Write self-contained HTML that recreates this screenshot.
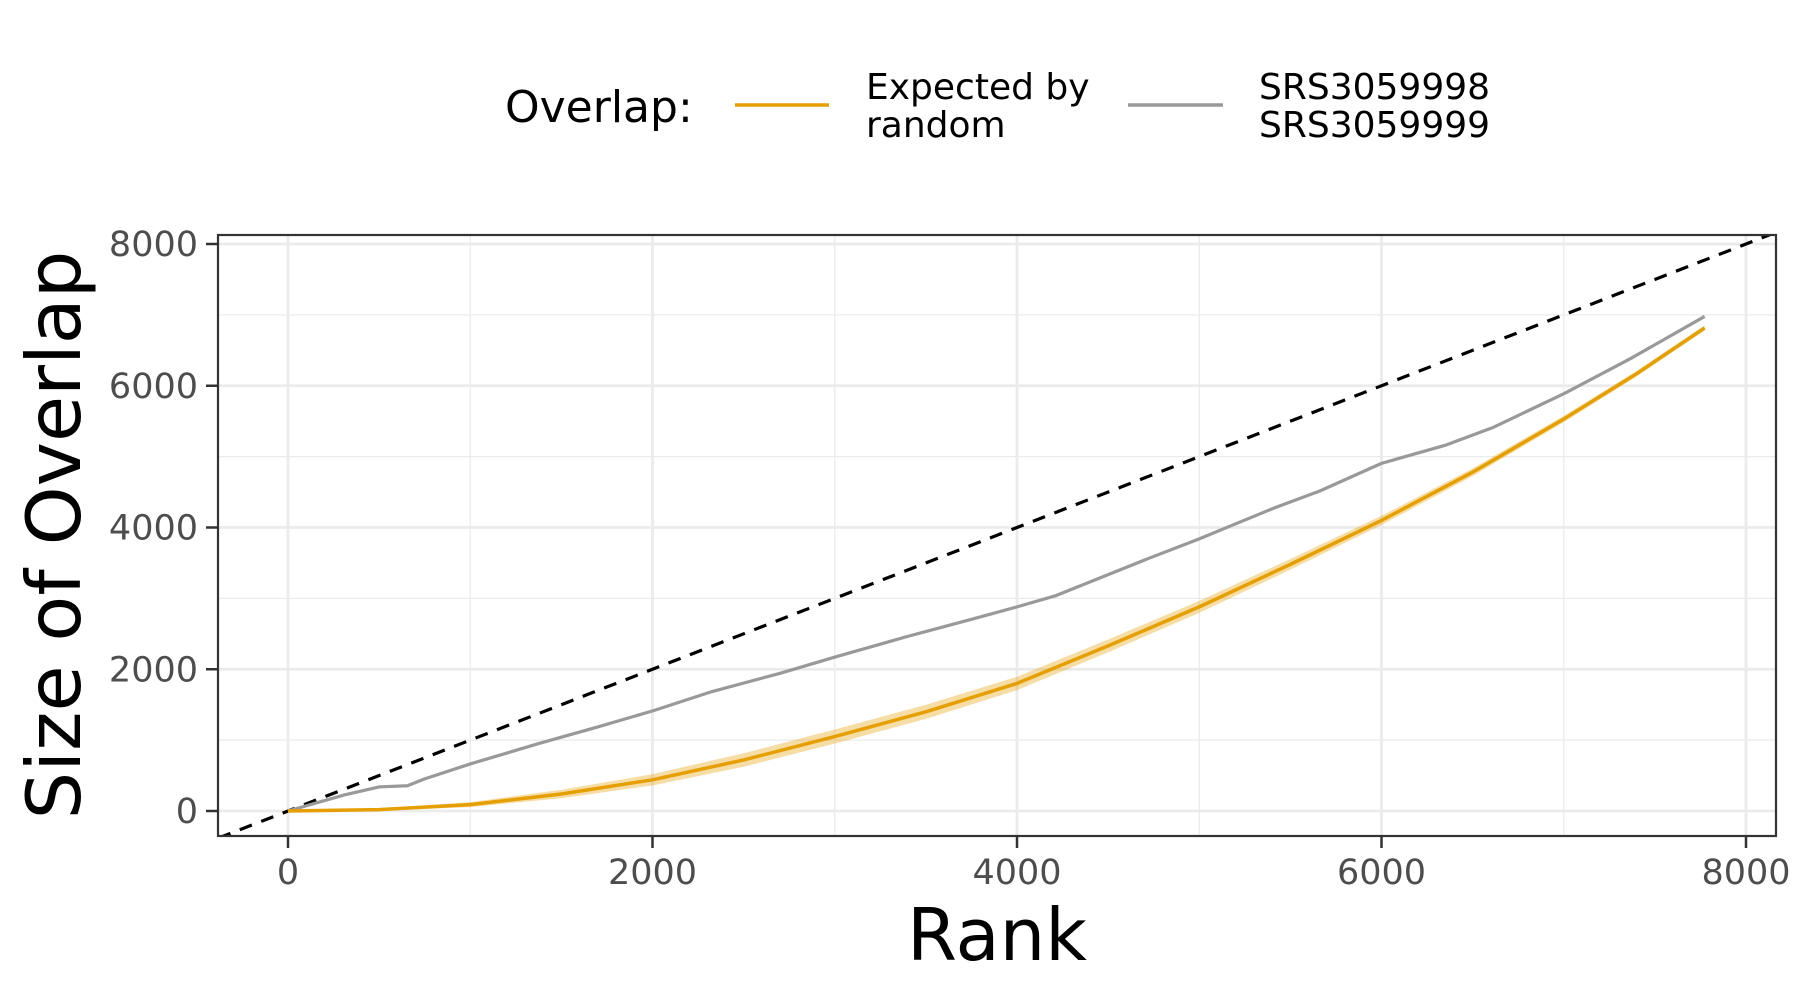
<!DOCTYPE html>
<html><head><meta charset="utf-8"><style>
body{margin:0;background:#fff}
svg{display:block;font-family:"DejaVu Sans","Liberation Sans",sans-serif}
</style></head><body>
<svg id="chart" width="1800" height="1000" viewBox="0 0 1800 1000">
<rect width="1800" height="1000" fill="#fff"/>
<g id="legend">
<text x="505" y="122" font-size="44" fill="#000">Overlap:</text>
<line x1="735" y1="105" x2="829" y2="105" stroke="#E69F00" stroke-width="3.5"/>
<text x="866" y="99" font-size="36" fill="#000"><tspan x="866">Expected by</tspan><tspan x="866" dy="38">random</tspan></text>
<line x1="1128" y1="105" x2="1223" y2="105" stroke="#999" stroke-width="3.5"/>
<text x="1259" y="99" font-size="36" fill="#000"><tspan x="1259">SRS3059998</tspan><tspan x="1259" dy="38">SRS3059999</tspan></text>
</g>
<g id="plot"></g>
<text x="997" y="960" font-size="72" text-anchor="middle" fill="#000">Rank</text>
<text transform="translate(80,535) rotate(-90)" font-size="75" text-anchor="middle" fill="#000">Size of Overlap</text>
</svg>
<script>
const xTicks=[0,2000,4000,6000,8000];
const yTicks=[0,2000,4000,6000,8000];
const minorTicks=[1000,3000,5000,7000];
const obsRank=[0,309,500,655,750,1000,1380,1695,2010,2325,2700,3020,3395,3773,4000,4215,4466,4718,5000,5160,5411,5663,6000,6356,6608,7005,7364,7773];
const obsValue=[0,227,340,356,453,664,955,1182,1420,1684,1943,2186,2460,2720,2880,3040,3300,3560,3840,4010,4275,4517,4905,5165,5407,5893,6380,6978];
const expRank=[0,500,1000,1500,2000,2500,3000,3500,4000,4500,5000,5500,6000,6500,7000,7400,7773];
const expValue=[0,20,90,240,440,720,1050,1400,1800,2330,2880,3480,4100,4780,5530,6170,6816];
const expBand=[0,15,35,60,80,95,100,100,95,90,85,75,65,55,45,40,35];

const L=218,R=1776,T=235,B=836;
const X=v=>288+v*(1458/8000);
const Y=v=>811-v*(567/8000);
const NS='http://www.w3.org/2000/svg';
const g=document.getElementById('plot');
function mk(t,a){const e=document.createElementNS(NS,t);for(const k in a)e.setAttribute(k,a[k]);g.appendChild(e);return e;}
let defs=mk('defs',{});
let cp=document.createElementNS(NS,'clipPath');cp.setAttribute('id','clip');
let cr=document.createElementNS(NS,'rect');cr.setAttribute('x',L);cr.setAttribute('y',T);cr.setAttribute('width',R-L);cr.setAttribute('height',B-T);
cp.appendChild(cr);defs.appendChild(cp);
minorTicks.forEach(v=>{
 let a=mk('line',{x1:X(v),x2:X(v),y1:T,y2:B,stroke:'#ebebeb','stroke-width':1.3});
 
 let b=mk('line',{x1:L,x2:R,y1:Y(v),y2:Y(v),stroke:'#ebebeb','stroke-width':1.3});
 
});
xTicks.forEach(v=>{
 let a=mk('line',{x1:X(v),x2:X(v),y1:T,y2:B,stroke:'#ebebeb','stroke-width':2.8});
 
 let t=mk('line',{x1:X(v),x2:X(v),y1:B,y2:B+12,stroke:'#333','stroke-width':2.5});
 
 let l=mk('text',{x:X(v),y:B+48,'font-size':35,fill:'#4d4d4d','text-anchor':'middle'});
 l.textContent=v;
});
yTicks.forEach(v=>{
 let a=mk('line',{x1:L,x2:R,y1:Y(v),y2:Y(v),stroke:'#ebebeb','stroke-width':2.8});
 
 let t=mk('line',{x1:L-12,x2:L,y1:Y(v),y2:Y(v),stroke:'#333','stroke-width':2.5});
 
 let l=mk('text',{x:L-20,y:Y(v)+12,'font-size':35,fill:'#4d4d4d','text-anchor':'end'});
 l.textContent=v;
});
let cg=mk('g',{'clip-path':'url(#clip)'});
function add(t,a){const e=document.createElementNS(NS,t);for(const k in a)e.setAttribute(k,a[k]);cg.appendChild(e);return e;}
let d='M'+expRank.map((r,i)=>X(r)+','+Y(expValue[i]+expBand[i])).join('L')+'L'+expRank.map((r,i)=>X(r)+','+Y(expValue[i]-expBand[i])).reverse().join('L')+'Z';
let band=add('path',{d:d,fill:'#E69F00','fill-opacity':0.35});

let diag=add('line',{x1:X(-500),y1:Y(-500),x2:X(8500),y2:Y(8500),stroke:'#000','stroke-width':3.2,'stroke-dasharray':'13,10'});

let obs=add('polyline',{points:obsRank.map((r,i)=>X(r)+','+Y(obsValue[i])).join(' '),fill:'none',stroke:'#999','stroke-width':3.2,'stroke-linejoin':'round'});

let exp=add('polyline',{points:expRank.map((r,i)=>X(r)+','+Y(expValue[i])).join(' '),fill:'none',stroke:'#E69F00','stroke-width':3.5,'stroke-linejoin':'round'});

let border=mk('rect',{x:L,y:T,width:R-L,height:B-T,fill:'none',stroke:'#333','stroke-width':2.2});

</script>
</body></html>
